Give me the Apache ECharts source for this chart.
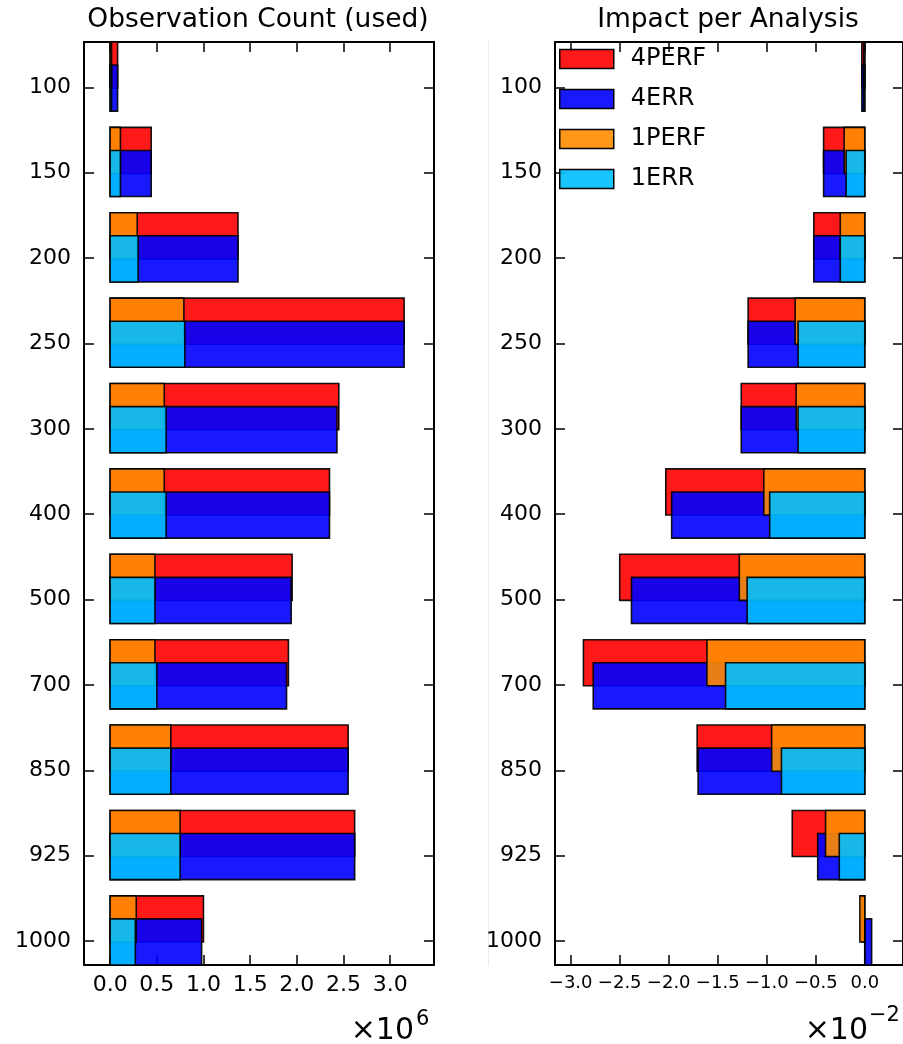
<!DOCTYPE html>
<html><head><meta charset="utf-8">
<script src="https://cdn.jsdelivr.net/npm/echarts@6/dist/echarts.min.js"></script>
<style>html,body{margin:0;padding:0;background:#fff}#c{width:903px;height:1044px}</style>
</head><body><div id="c"></div>
<script>
// Pressure levels (hPa)
const levels = ['100','150','200','250','300','400','500','700','850','925','1000'];
const seriesNames = ['4PERF','4ERR','1PERF','1ERR'];
// Observation count (used)
const count4PERF = [80000, 440000, 1370000, 3150000, 2450000, 2350000, 1950000, 1910000, 2550000, 2620000, 1000000];
const count4ERR  = [80000, 440000, 1370000, 3150000, 2430000, 2350000, 1940000, 1890000, 2550000, 2620000, 980000];
const count1PERF = [15000, 110000, 290000, 790000, 580000, 580000, 480000, 480000, 650000, 750000, 280000];
const count1ERR  = [15000, 110000, 300000, 800000, 600000, 600000, 480000, 500000, 650000, 750000, 270000];
// Impact per analysis
const impact4PERF = [-0.0003, -0.0042, -0.0052, -0.0119, -0.0126, -0.0203, -0.0250, -0.0287, -0.0171, -0.0074, -0.0003];
const impact4ERR  = [-0.0003, -0.0042, -0.0052, -0.0119, -0.0126, -0.0197, -0.0238, -0.0277, -0.0170, -0.0048, 0.0007];
const impact1PERF = [-0.0001, -0.0021, -0.0025, -0.0071, -0.0070, -0.0103, -0.0128, -0.0161, -0.0095, -0.0040, -0.0005];
const impact1ERR  = [-0.0001, -0.0019, -0.0025, -0.0068, -0.0068, -0.0097, -0.0120, -0.0142, -0.0085, -0.0026, 0.0000];
// Tick labels
const countTicks = [0, 0.5, 1.0, 1.5, 2.0, 2.5, 3.0];
const impactTicks = [-3.0, -2.5, -2.0, -1.5, -1.0, -0.5, 0.0];

const FONT = 'DejaVu Sans';
const fills = ['rgba(255,0,0,0.9)','rgba(0,0,255,0.9)','rgba(255,140,0,0.9)','rgba(0,191,255,0.9)'];
// vertical extent of each bar (in level-index units, relative to the level)
const extents = [[-0.53, 0.01], [-0.26, 0.28], [-0.53, 0.01], [-0.26, 0.28]];

function makeRender(k){
  return function(params, api){
    const v = api.value(0), i = api.value(1);
    const p0 = api.coord([0, i + extents[k][0]]);
    const p1 = api.coord([v, i + extents[k][1]]);
    return {type:'rect', shape:{x:Math.min(p0[0],p1[0]), y:p0[1], width:Math.abs(p1[0]-p0[0]), height:p1[1]-p0[1]},
      style:{fill:fills[k], stroke:'rgba(0,0,0,0.9)', lineWidth:1.6}};
  };
}
function mkSeries(name, k, vals, axisIdx){
  return {type:'custom', name:name, xAxisIndex:axisIdx*2, yAxisIndex:axisIdx*2, renderItem:makeRender(k),
    itemStyle:{color:fills[k]}, data:vals.map((v,i)=>[v,i]), animation:false, encode:{x:0,y:1}};
}
const yIdx = levels.map((_, i) => i);
function yAxis(grid, pos, showLabel){
  return {type:'value', gridIndex:grid, position:pos, inverse:true, min:-0.53, max:10.28,
    axisLine:{show:true, onZero:false, lineStyle:{color:'#000', width:2}},
    axisTick:{show:true, inside:true, length:10, customValues:yIdx, lineStyle:{color:'#000', width:1.5}},
    axisLabel:{show:showLabel, customValues:yIdx, formatter:v=>levels[Math.round(v)], fontFamily:FONT, fontSize:22, color:'#000', margin:13},
    splitLine:{show:false}};
}
function fmtNum(x){ const s = Math.abs(x).toFixed(1); return (x < -1e-9 ? '\u2212' : '') + s; }
const cTickVals = countTicks.map(t => t*1e6);
const iTickVals = impactTicks.map(t => t/100);
function xAxis(grid, pos, min, max, vals, scale, fs, showLabel){
  return {type:'value', gridIndex:grid, position:pos, min:min, max:max,
    axisLine:{show:true, onZero:false, lineStyle:{color:'#000', width:2}},
    axisTick:{show:true, inside:true, length:10, customValues:vals, lineStyle:{color:'#000', width:1.5}},
    axisLabel:{show:showLabel, customValues:vals, formatter:v=>fmtNum(v*scale), fontFamily:FONT, fontSize:fs, color:'#000', margin:9},
    splitLine:{show:false}};
}

const option = {
  animation:false,
  backgroundColor:'#fff',
  grid:[{left:84, top:42, width:350, height:923}, {left:555, top:42, width:349, height:923}],
  xAxis:[xAxis(0,'bottom',-280000,3470000,cTickVals,1e-6,22,true), xAxis(0,'top',-280000,3470000,cTickVals,1e-6,22,false),
         xAxis(1,'bottom',-0.0316,0.0039,iTickVals,100,18,true), xAxis(1,'top',-0.0316,0.0039,iTickVals,100,18,false)],
  yAxis:[yAxis(0,'left',true), yAxis(0,'right',false), yAxis(1,'left',true), yAxis(1,'right',false)],
  legend:{data:seriesNames, orient:'vertical', left:559, top:47, padding:0, itemWidth:54, itemHeight:19, itemGap:16, icon:'rect',
    selectedMode:false, itemStyle:{borderColor:'#000', borderWidth:1.5},
    textStyle:{fontFamily:FONT, fontSize:24, lineHeight:19, color:'#000', padding:[0,0,0,12]}},
  series:[
    mkSeries('4PERF',0,count4PERF,0), mkSeries('4ERR',1,count4ERR,0), mkSeries('1PERF',2,count1PERF,0), mkSeries('1ERR',3,count1ERR,0),
    {...mkSeries('4PERF',0,impact4PERF,1), xAxisIndex:2, yAxisIndex:2},
    {...mkSeries('4ERR',1,impact4ERR,1), xAxisIndex:2, yAxisIndex:2},
    {...mkSeries('1PERF',2,impact1PERF,1), xAxisIndex:2, yAxisIndex:2},
    {...mkSeries('1ERR',3,impact1ERR,1), xAxisIndex:2, yAxisIndex:2}
  ],
  graphic:[
    {type:'line', shape:{x1:488.5, y1:40, x2:488.5, y2:966}, style:{stroke:'#ebebeb', lineWidth:1}, silent:true},
    {type:'text', x:258, y:20, style:{text:'Observation Count (used)', font:'26.5px "DejaVu Sans"', fill:'#000', textAlign:'center', textVerticalAlign:'middle'}},
    {type:'text', x:728, y:20, style:{text:'Impact per Analysis', font:'26.5px "DejaVu Sans"', fill:'#000', textAlign:'center', textVerticalAlign:'middle'}},
    {type:'text', x:414, y:1031, style:{text:'\u00d710', font:'30px "DejaVu Sans"', fill:'#000', textAlign:'right', textVerticalAlign:'middle'}},
    {type:'text', x:416, y:1020, style:{text:'6', font:'21px "DejaVu Sans"', fill:'#000', textAlign:'left', textVerticalAlign:'middle'}},
    {type:'text', x:868, y:1031, style:{text:'\u00d710', font:'30px "DejaVu Sans"', fill:'#000', textAlign:'right', textVerticalAlign:'middle'}},
    {type:'text', x:869, y:1016, style:{text:'\u22122', font:'21px "DejaVu Sans"', fill:'#000', textAlign:'left', textVerticalAlign:'middle'}}
  ]
};
const chart = echarts.init(document.getElementById('c'), null, {renderer:'canvas'});
chart.setOption(option);
</script></body></html>
